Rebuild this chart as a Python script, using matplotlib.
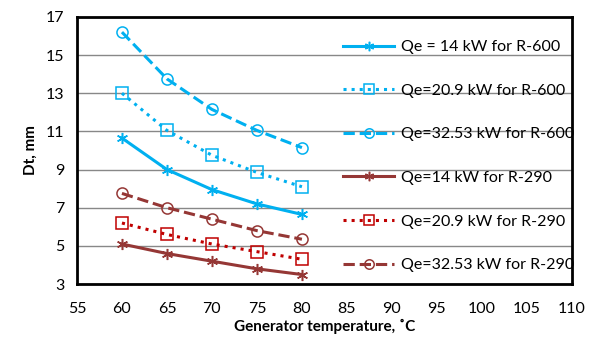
import matplotlib.pyplot as plt

plt.rcParams['font.family'] = ['Lato', 'DejaVu Sans']

# dados
temp = [60, 65, 70, 75, 80]

r600_14 = [10.65, 9.0, 7.95, 7.2, 6.65]
r600_209 = [13.0, 11.05, 9.75, 8.85, 8.1]
r600_3253 = [16.2, 13.75, 12.15, 11.05, 10.15]
r290_14 = [5.1, 4.6, 4.2, 3.8, 3.5]
r290_209 = [6.2, 5.6, 5.1, 4.7, 4.3]
r290_3253 = [7.75, 7.0, 6.4, 5.8, 5.35]

labels = ["Qe = 14 kW for R-600", "Qe=20.9 kW for R-600", "Qe=32.53 kW for R-600",
          "Qe=14 kW for R-290", "Qe=20.9 kW for R-290", "Qe=32.53 kW for R-290"]

azul = '#00B0F0'
marrom = '#953735'
vermelho = '#C00000'

fig = plt.figure(figsize=(5.92, 3.37), dpi=100)
ax = fig.add_axes([0.130, 0.157, 0.836, 0.793])

star = (6, 2, 0)
ax.plot(temp, r600_14, '-', color=azul, lw=2.2, marker=star, ms=8, mew=1.1, label=labels[0])
ax.plot(temp, r600_209, ':', color=azul, lw=2.2, marker='s', ms=8, mfc='none', mew=1.1, label=labels[1])
ax.plot(temp, r600_3253, '--', color=azul, lw=2.2, marker='o', ms=8, mfc='none', mew=1.1, label=labels[2])
ax.plot(temp, r290_14, '-', color=marrom, lw=2.2, marker=star, ms=8, mew=1.1, label=labels[3])
ax.plot(temp, r290_209, ':', color=vermelho, lw=2.2, marker='s', ms=8, mfc='none', mew=1.1, label=labels[4])
ax.plot(temp, r290_3253, '--', color=marrom, lw=2.2, marker='o', ms=8, mfc='none', mew=1.1, label=labels[5])

ax.set_xlim(55, 110)
ax.set_ylim(3, 17)
ax.set_xticks(range(55, 111, 5))
ax.set_yticks(range(3, 18, 2))
ax.yaxis.grid(True, color='#888888', lw=1)
ax.set_axisbelow(True)
ax.tick_params(length=0, labelsize=11.5)
ax.tick_params(axis='x', pad=13)
ax.tick_params(axis='y', pad=9)
for s in ax.spines.values():
    s.set_linewidth(2)
    s.set_color('black')

ax.set_xlabel("Generator temperature, ˚C", fontsize=11, fontweight='bold', labelpad=2)
ax.set_ylabel("Dt, mm", fontsize=11, fontweight='bold', labelpad=6)

ax.legend(loc='upper left', bbox_to_anchor=(0.525, 0.937), frameon=False,
          fontsize=11.5, handlelength=3.2, labelspacing=1.84, handletextpad=0.45,
          borderaxespad=0, markerscale=0.85)

fig.savefig('out.png', dpi=100)
